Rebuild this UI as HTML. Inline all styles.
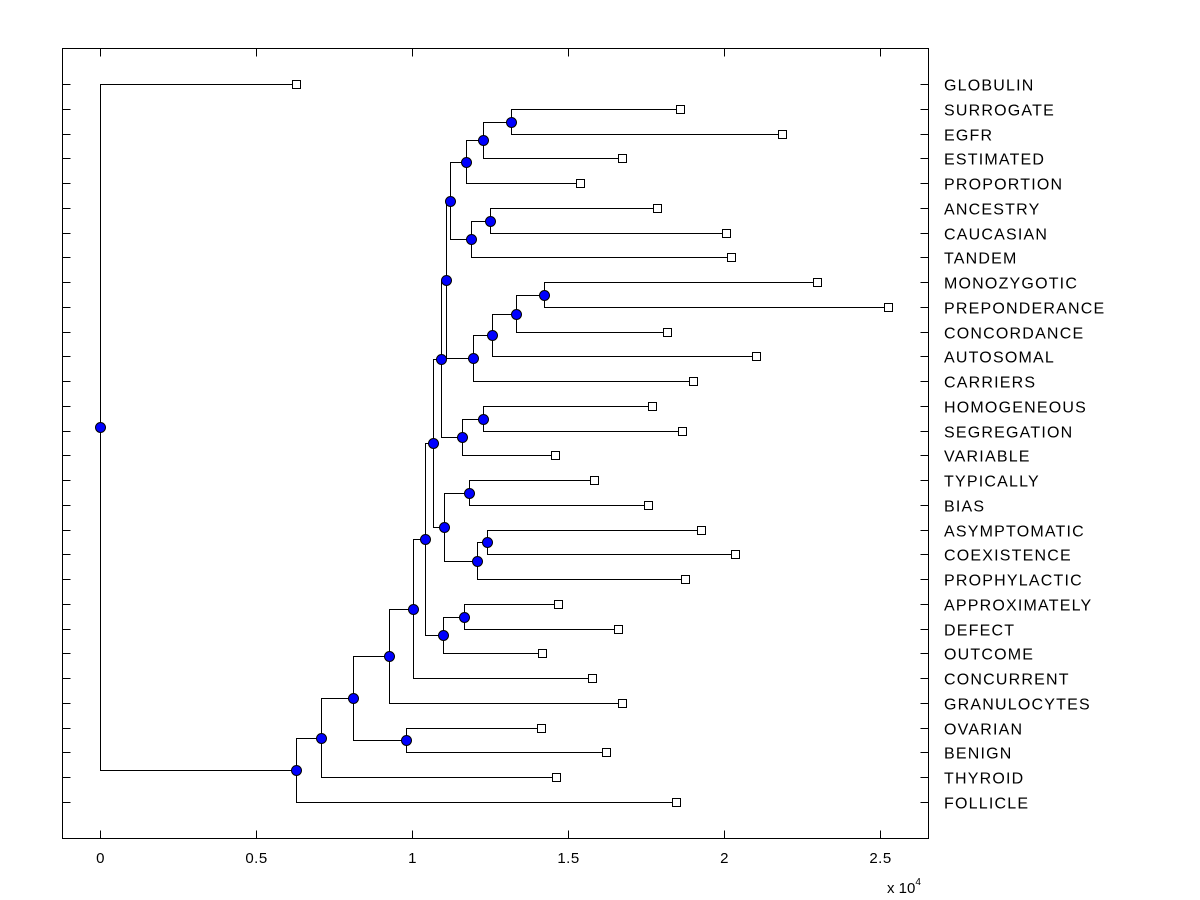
<!DOCTYPE html>
<html><head><meta charset="utf-8"><style>
html,body{margin:0;padding:0;background:#fff;}
svg{display:block;font-family:"Liberation Sans",Arial,sans-serif;}
</style></head><body>
<svg id="chart" width="1200" height="900" viewBox="0 0 1200 900" xmlns="http://www.w3.org/2000/svg" shape-rendering="crispEdges">
<rect x="0" y="0" width="1200" height="900" fill="#fff"/>
<g id="tree"></g>
<g id="axes"></g>
</svg>
<script>
const leafLabels = ["GLOBULIN","SURROGATE","EGFR","ESTIMATED","PROPORTION","ANCESTRY","CAUCASIAN","TANDEM","MONOZYGOTIC","PREPONDERANCE","CONCORDANCE","AUTOSOMAL","CARRIERS","HOMOGENEOUS","SEGREGATION","VARIABLE","TYPICALLY","BIAS","ASYMPTOMATIC","COEXISTENCE","PROPHYLACTIC","APPROXIMATELY","DEFECT","OUTCOME","CONCURRENT","GRANULOCYTES","OVARIAN","BENIGN","THYROID","FOLLICLE"];
const leafHeights = [6282,18590,21860,16730,15380,17850,20060,20220,22980,25260,18170,21030,19010,17690,18650,14580,15830,17560,19260,20350,18750,14680,16600,14170,15770,16730,14130,16220,14610,18460];
const mergeA = [1,30,31,5,33,32,8,36,37,38,35,13,41,40,16,18,45,44,43,21,49,48,51,52,26,53,55,56,0];
const mergeB = [2,3,4,6,7,34,9,10,11,12,39,14,15,42,17,19,20,46,47,22,23,50,24,25,27,54,28,29,57];
const mergeHeights = [13170,12280,11730,12500,11890,11220,14230,13330,12560,11950,11090,12280,11600,10930,11830,12400,12080,11030,10670,11670,10990,10420,10030,9260,9810,8110,7080,6282,0];
const xTicks = [0,5000,10000,15000,20000,25000];
const xTickLabels = ["0","0.5","1","1.5","2","2.5"];

const L=62.5,R=928.5,T=48.5,B=838.5;
const X = v => Math.round(100 + v*312/10000)+0.5;
const rowY = i => Math.round(84 + i*(802-84)/29)+0.5;
const NS="http://www.w3.org/2000/svg";
function mk(tag, attrs, parent){const e=document.createElementNS(NS,tag);for(const k in attrs)e.setAttribute(k,attrs[k]);parent.appendChild(e);return e;}
const tree=document.getElementById('tree'), axes=document.getElementById('axes');

const n=leafLabels.length;
const nx=[], ny=[];
for(let i=0;i<n;i++){nx[i]=X(leafHeights[i]);ny[i]=rowY(i);}
for(let k=0;k<mergeA.length;k++){const id=n+k;nx[id]=X(mergeHeights[k]);ny[id]=Math.floor((ny[mergeA[k]]+ny[mergeB[k]])/2)+0.5;}
const lines=mk('g',{},tree), marks=mk('g',{},tree);
for(let k=0;k<mergeA.length;k++){
  const id=n+k,a=mergeA[k],b=mergeB[k];
  const p=mk('path',{d:`M${nx[a]},${ny[a]}H${nx[id]}V${ny[b]}H${nx[b]}`,fill:'none',stroke:'#000','stroke-width':1},lines);
  
  
}
for(let i=0;i<n;i++){
  const r=mk('rect',{x:nx[i]-4,y:ny[i]-4,width:8,height:8,fill:'#fff',stroke:'#000','stroke-width':1},marks);
  
  
}
for(let k=0;k<mergeA.length;k++){
  const id=n+k;
  const c=mk('circle',{cx:nx[id],cy:ny[id],r:5,fill:'#0000ff',stroke:'#000','stroke-width':1,'shape-rendering':'auto'},marks);
  
  
}
const box=mk('rect',{x:L,y:T,width:R-L,height:B-T,fill:'none',stroke:'#000','stroke-width':1},axes);


for(let i=0;i<n;i++){
  const y=rowY(i);
  mk('path',{d:`M${L},${y}h8M${R},${y}h-8`,stroke:'#000','stroke-width':1},axes);
  const t=mk('text',{x:944,y:y+6,'font-size':16,'letter-spacing':'1.2',fill:'#000'},axes);
  t.textContent=leafLabels[i];
  
  
}
xTicks.forEach((v,i)=>{
  const x=X(v);
  mk('path',{d:`M${x},${B}v-8M${x},${T}v8`,stroke:'#000','stroke-width':1},axes);
  const t=mk('text',{x:x,y:863,'font-size':15,'text-anchor':'middle','letter-spacing':'0.5',fill:'#000'},axes);
  t.textContent=xTickLabels[i];
  
  
});
const ex=mk('text',{x:887,y:893,'font-size':15,fill:'#000'},axes);
ex.innerHTML='x 10<tspan dy="-8" font-size="10">4</tspan>';


</script>
</body></html>
